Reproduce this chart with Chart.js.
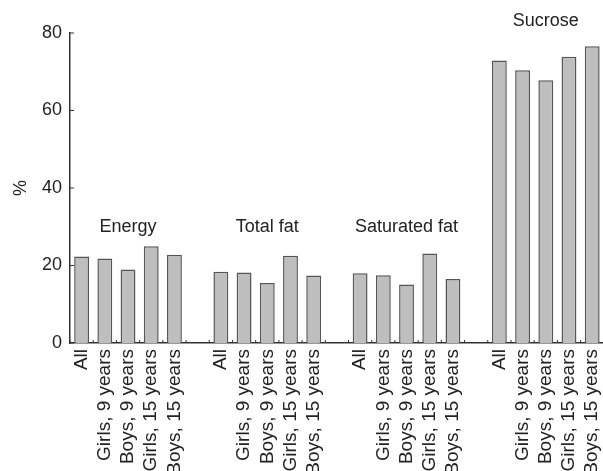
<!DOCTYPE html>
<html>
<head>
<meta charset="utf-8">
<script src="https://cdn.jsdelivr.net/npm/chart.js@4/dist/chart.umd.min.js"></script>
<style>
  html, body { margin: 0; padding: 0; background: #fff; overflow: hidden; }
  #wrap { width: 621px; height: 478px; }
</style>
</head>
<body>
<div id="wrap"><canvas id="chart"></canvas></div>
<script>
/* global Chart */

// Subgroups inside each nutrient group
const subgroups = ['All', 'Girls, 9 years', 'Boys, 9 years', 'Girls, 15 years', 'Boys, 15 years'];
const groups = ['Energy', 'Total fat', 'Saturated fat', 'Sucrose'];

// % values
const energy = [22.3, 21.8, 19.0, 25.0, 22.8];
const totalFat = [18.4, 18.2, 15.5, 22.5, 17.4];
const saturatedFat = [18.0, 17.5, 15.1, 23.1, 16.5];
const sucrose = [72.9, 70.4, 67.8, 73.9, 76.6];

// where the group name sits (in y units)
const groupLabelValues = [30, 30, 30, 83];
const yTicks = [0, 20, 40, 60, 80];

const FONT = '"Liberation Sans", Arial, Helvetica, sans-serif';
const TEXT = '#222';

// Flatten into one category axis, with an empty slot between groups
let labels = [];
let values = [];
let series = [energy, totalFat, saturatedFat, sucrose];
for (let g = 0; g < series.length; g++) {
    for (let i = 0; i < subgroups.length; i++) {
        labels.push(subgroups[i]);
        values.push(series[g][i]);
    }
    if (g < series.length - 1) {
        labels.push('');
        values.push(null);
    }
}

// Inward tick marks + group names
const extras = {
    id: 'extras',
    afterDraw(chart) {
        const ctx = chart.ctx;
        const x = chart.scales.x;
        const y = chart.scales.y;
        const area = chart.chartArea;
        ctx.save();
        ctx.strokeStyle = '#333';
        ctx.lineWidth = 1;
        ctx.beginPath();
        let slot = x.getPixelForValue(1) - x.getPixelForValue(0);
        for (let i = 0; i <= labels.length; i++) {
            let px = x.getPixelForValue(i) - slot / 2;
            ctx.moveTo(px, area.bottom);
            ctx.lineTo(px, area.bottom - 3);
        }
        yTicks.forEach(v => {
            let py = y.getPixelForValue(v);
            ctx.moveTo(area.left, py);
            ctx.lineTo(area.left + 4, py);
        });
        ctx.stroke();

        ctx.fillStyle = TEXT;
        ctx.font = '18px ' + FONT;
        ctx.textAlign = 'center';
        ctx.textBaseline = 'middle';
        groups.forEach((name, g) => {
            let px = x.getPixelForValue(g * 6 + 2);
            let py = y.getPixelForValue(groupLabelValues[g]);
            ctx.fillText(name, px, py);
        });
        ctx.restore();
    }
};

new Chart(document.getElementById('chart'), {
    type: 'bar',
    data: {
        labels: labels,
        datasets: [{
            data: values,
            backgroundColor: '#bebebe',
            borderColor: '#555',
            borderWidth: 1.5,
            barPercentage: 0.64,
            categoryPercentage: 1
        }]
    },
    options: {
        responsive: true,
        maintainAspectRatio: false,
        animation: false,
        layout: { padding: { top: 33, left: 0, right: 0, bottom: 0 } },
        plugins: { legend: { display: false }, tooltip: { enabled: false } },
        scales: {
            x: {
                grid: { display: false, drawTicks: false },
                border: { display: true, color: '#333', width: 1.5 },
                ticks: {
                    autoSkip: false,
                    minRotation: 90,
                    maxRotation: 90,
                    padding: 6,
                    color: TEXT,
                    font: { family: FONT, size: 19 }
                },
                afterFit(scale) { scale.height = 135; }
            },
            y: {
                min: 0,
                max: 80,
                afterBuildTicks(scale) { scale.ticks = yTicks.map(v => ({ value: v })); },
                grid: { display: false, drawTicks: false },
                border: { display: true, color: '#333', width: 1.5 },
                ticks: {
                    padding: 8,
                    color: TEXT,
                    font: { family: FONT, size: 18 }
                },
                title: {
                    display: true,
                    text: '%',
                    color: TEXT,
                    font: { family: FONT, size: 18 },
                    padding: { top: 10, bottom: 0 }
                },
                afterFit(scale) { scale.width = 70; }
            }
        }
    },
    plugins: [extras]
});
</script>
</body>
</html>
